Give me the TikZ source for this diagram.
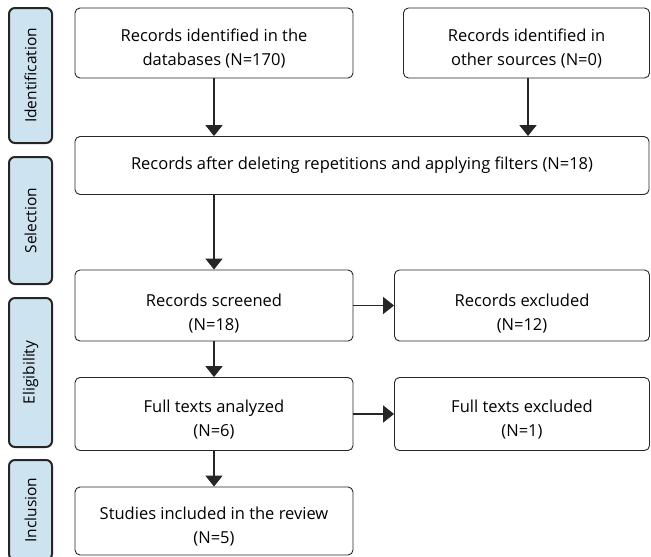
\documentclass[tikz,border=0pt]{standalone}
\usepackage{fontspec}
\setmainfont{Open Sans}
\usetikzlibrary{arrows.meta}
\definecolor{phase}{HTML}{CDE3F0}
\begin{document}
\begin{tikzpicture}[x=1pt,y=-1pt,
  box/.style={draw=black!85,line width=0.9pt,rounded corners=5pt,align=center,font=\fontsize{16.5}{24}\selectfont},
  low/.style={text height=47pt},
  lower/.style={text height=52pt},
  phasebox/.style={draw=black!85,fill=phase,line width=2pt,rounded corners=6pt,font=\fontsize{15.5}{18}\selectfont},
  arr/.style={line width=1.8pt,draw=black!85,-{Triangle[length=11pt,width=17pt]}}]
\useasboundingbox (0,0) rectangle (651,557);
% phase labels
\node[phasebox,minimum height=43pt,minimum width=135pt,rotate=90] (p1) at (30.5,75.5) {Identification};
\node[phasebox,minimum height=43pt,minimum width=127pt,rotate=90] (p2) at (30.5,220.5) {Selection};
\node[phasebox,minimum height=43pt,minimum width=149pt,rotate=90] (p3) at (30.5,372.5) {Eligibility};
\node[phasebox,minimum height=43pt,minimum width=100pt,rotate=90] (p4) at (30.5,510) {Inclusion};
% boxes
\node[box,low,minimum width=278pt,minimum height=70pt] (b1) at (214,43) {Records identified in the\\databases (N=170)};
\node[box,low,minimum width=246pt,minimum height=70pt] (b2) at (526.5,43) {Records identified in\\other sources (N=0)};
\node[box,minimum width=574pt,minimum height=58pt] (b3) at (362,165.5) {Records after deleting repetitions and applying filters (N=18)};
\node[box,lower,minimum width=278pt,minimum height=71pt] (b4) at (214,305.5) {Records screened\\(N=18)};
\node[box,lower,minimum width=255pt,minimum height=71pt] (b5) at (522,305.5) {Records excluded\\(N=12)};
\node[box,low,minimum width=278pt,minimum height=73pt] (b6) at (214,414) {Full texts analyzed\\(N=6)};
\node[box,low,minimum width=255pt,minimum height=73pt] (b7) at (522,414) {Full texts excluded\\(N=1)};
\node[box,low,minimum width=278pt,minimum height=68pt] (b8) at (214,521) {Studies included in the review\\(N=5)};
% arrows
\draw[arr] (b1.south) -- (b1.south |- b3.north);
\draw[arr] (528,78) coordinate (c2) -- (c2 |- b3.north);
\draw[arr] (b3.south -| b1.south) -- (b4.north);
\draw[arr] (b4.east) -- (b5.west);
\draw[arr] (b4.south) -- (b6.north);
\draw[arr] (b6.east) -- (b7.west);
\draw[arr] (b6.south) -- (b8.north);
\end{tikzpicture}
\end{document}
